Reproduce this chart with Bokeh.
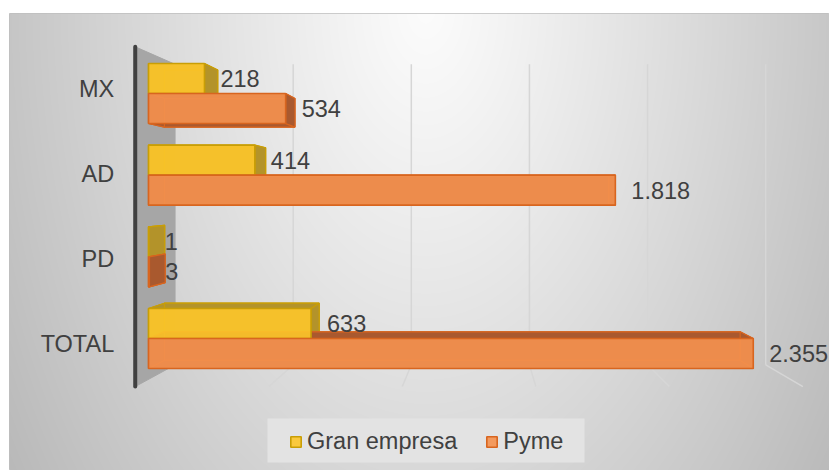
import numpy as np
from bokeh.plotting import figure
from bokeh.models import Range1d, Legend, LegendItem, ColumnDataSource
from bokeh.core.properties import value
from bokeh.embed import file_html
from bokeh.resources import INLINE

# ---------------- data ----------------
categories = ["MX", "AD", "PD", "TOTAL"]
gran_empresa = [218, 414, 1, 633]
pyme = [534, 1818, 3, 2355]
series_names = ["Gran empresa", "Pyme"]
grid_values = [500, 1000, 1500, 2000, 2500]

# ---------------- layout / style ----------------
FONT = "Liberation Sans"
TXT = "#404040"
W, H = 829, 470
BL, BT = 9, 13
FW, FH = W - BL, H - BT
K = 0.2568          # px per value unit (front plane)
KY = 81.67          # px per category row
x0 = -139 / K
x1 = x0 + FW / K
y1 = 325 / KY
y0 = y1 - FH / KY

VX, VY = 332 / K, 140 / KY      # vanishing point in data units
S_AX, S_BK, S_BAR = 1.04, 0.92, 0.952
BH = 30 / KY

def proj(x, y, s):
    return VX + (x - VX) * s, VY + (y - VY) * s

def px_to_data(px, py):
    return x0 + (px - BL) / K, y1 - (py - BT) / KY

p = figure(width=W, height=H, x_range=Range1d(x0, x1), y_range=Range1d(y0, y1),
           x_axis_type=None, y_axis_type=None, toolbar_location=None,
           output_backend="svg", min_border_left=BL, min_border_right=0,
           min_border_top=BT, min_border_bottom=0,
           background_fill_color="#e0e0e0", border_fill_color="white",
           outline_line_color="#bfbfbf")
p.grid.visible = False

# background gradient
jj, ii = np.meshgrid(np.arange(FW), np.arange(FH))
page_x = BL + jj
page_y = BT + (FH - 1 - ii)
d = np.sqrt(((page_x - 425) / 415.0) ** 2 + ((page_y - 5) / 680.0) ** 2)
c = np.clip(252 - 54 * d ** 1.1, 182, 255).astype(np.uint8)
img = np.empty((FH, FW), dtype=np.uint32)
view = img.view(dtype=np.uint8).reshape((FH, FW, 4))
view[..., 0] = c
view[..., 1] = c
view[..., 2] = c
view[..., 3] = 255
p.image_rgba(image=[img], x=x0, y=y0, dw=x1 - x0, dh=y1 - y0)

rows = list(range(len(categories) - 1, -1, -1))   # MX on top
r_lo, r_hi = -0.5, len(categories) - 0.5

# left side wall
wx, wy = zip(proj(0, r_hi, S_AX), proj(0, r_hi, S_BK), proj(0, r_lo, S_BK), proj(0, r_lo, S_AX))
p.patch(list(wx), list(wy), fill_color="#a6a6a6", line_color="#a6a6a6", line_width=1)

# gridlines (back wall + floor)
gx0, gy0, gx1, gy1 = [], [], [], []
for g in grid_values:
    a = proj(g, r_lo, S_BK); b = proj(g, r_hi, S_BK); f = proj(g, r_lo, S_AX)
    gx0 += [a[0], a[0]]; gy0 += [a[1], a[1]]
    gx1 += [b[0], f[0]]; gy1 += [b[1], f[1]]
p.segment(x0=gx0, y0=gy0, x1=gx1, y1=gy1, line_color="#d6d6d6", line_width=1.5)

# axis line
a = proj(0, r_hi, S_AX); b = proj(0, r_lo, S_AX)
p.line([a[0], b[0]], [a[1], b[1]], line_color="#404040", line_width=4, line_cap="round")

# bars
styles = [
    dict(front="#FCC52A", edge="#C99E05", side="#B3922A"),
    dict(front="#F4914F", edge="#D8651F", side="#A9592E"),
]
series = [gran_empresa, pyme]
offsets = [(0.0, BH), (-BH, 0.0)]

side_xs, side_ys, side_fill, side_line = [], [], [], []
fronts = []
for si, vals in enumerate(series):
    st = styles[si]
    lefts, rights, bots, tops = [], [], [], []
    for r, v in zip(rows, vals):
        r0 = r + offsets[si][0]; r1 = r + offsets[si][1]
        F = [(0, r0), (v, r0), (v, r1), (0, r1)]
        B = [proj(px, py, S_BAR) for px, py in F]
        faces = [B,
                 [F[0], F[1], B[1], B[0]],
                 [F[3], F[2], B[2], B[3]],
                 [F[0], F[3], B[3], B[0]],
                 [F[1], F[2], B[2], B[1]]]
        for fc in faces:
            side_xs.append([q[0] for q in fc]); side_ys.append([q[1] for q in fc])
            side_fill.append(st["side"]); side_line.append(st["edge"])
        lefts.append(0); rights.append(v); bots.append(r0); tops.append(r1)
    fronts.append(dict(left=lefts, right=rights, bottom=bots, top=tops))

p.patches(xs=side_xs, ys=side_ys, fill_color=side_fill, line_color=side_line,
          fill_alpha=0.95, line_width=1.2)

front_renderers = []
for si in range(2):
    st = styles[si]
    src = ColumnDataSource(fronts[si])
    rr = p.quad(left="left", right="right", bottom="bottom", top="top", source=src,
                fill_color=st["front"], fill_alpha=0.9, line_color=st["edge"], line_width=1.6)
    front_renderers.append(rr)

# value labels
lx, ly, lt = [], [], []
for si, vals in enumerate(series):
    for r, v in zip(rows, vals):
        lx.append(v); ly.append(r + (offsets[si][0] + offsets[si][1]) / 2)
        lt.append(f"{v:,}".replace(",", "."))
p.text(x=lx, y=ly, text=lt, x_offset=16, text_align="left", text_baseline="middle",
       text_font=value(FONT), text_font_size="23.5px", text_color=TXT)

# category labels
cx, cy = [], []
for r in rows:
    q = proj(0, r, S_AX); cx.append(q[0]); cy.append(q[1])
p.text(x=cx, y=cy, text=categories, x_offset=-21, text_align="right", text_baseline="middle",
       text_font=value(FONT), text_font_size="23.5px", text_color=TXT)

# legend background panel
lb_l, lb_t = px_to_data(267, 418)
lb_r, lb_b = px_to_data(584, 462)
p.quad(left=[lb_l], right=[lb_r], bottom=[lb_b], top=[lb_t],
       fill_color="#e3e3e3", line_color=None)

legend = Legend(items=[LegendItem(label=series_names[i], renderers=[front_renderers[i]]) for i in range(2)],
                orientation="horizontal", location=(280, 15),
                glyph_width=13, glyph_height=13, label_standoff=5, spacing=28, padding=8,
                label_height=28,
                label_text_font=FONT, label_text_font_size="23.5px", label_text_color=TXT,
                background_fill_alpha=0.0, border_line_color=None)
p.add_layout(legend)

open("out.html", "w").write(file_html(p, INLINE))
